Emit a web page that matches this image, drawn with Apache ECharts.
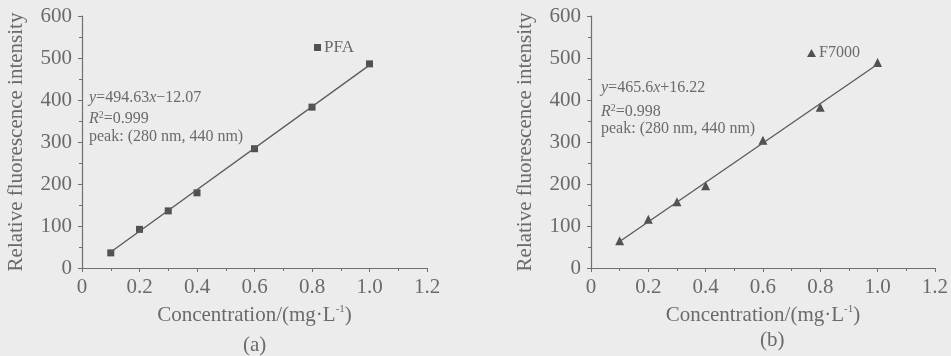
<!DOCTYPE html>
<html><head><meta charset="utf-8">
<script src="https://cdn.jsdelivr.net/npm/echarts@6/dist/echarts.min.js"></script>
<style>html,body{margin:0;padding:0;background:#ececec;}#c{width:951px;height:356px;}</style>
</head><body><div id="c"></div>
<script>
var concentrations = [0.1, 0.2, 0.3, 0.4, 0.6, 0.8, 1.0];
var pfaValues = [36, 92, 136, 179, 284, 383, 486];
var f7000Values = [65, 116, 158, 196, 304, 383, 489];
var pfaFit = [[0.1, 38], [1.0, 483]];
var f7000Fit = [[0.1, 63], [1.0, 485]];
var xTicks = ['0', '0.2', '0.4', '0.6', '0.8', '1.0', '1.2'];
var yTicks = ['0', '100', '200', '300', '400', '500', '600'];

var FONT = '"Liberation Serif","DejaVu Serif",serif';
var TXT = '#6a6a6a';
var AX = '#707070';

function pairs(xs, ys) { return xs.map(function (x, i) { return [x, ys[i]]; }); }

function xAxis(idx) {
  return {
    type: 'value', gridIndex: idx, min: 0, max: 1.2, interval: 0.2,
    axisLine: { lineStyle: { color: AX, width: 1.2 } },
    axisTick: { length: 4, lineStyle: { color: AX } },
    minorTick: { show: true, splitNumber: 2, length: 3, lineStyle: { color: AX } },
    splitLine: { show: false },
    axisLabel: { color: TXT, fontFamily: FONT, fontSize: 21, margin: 9,
      formatter: function (v) { return xTicks[Math.round(v / 0.2)]; } },
    name: '{n|Concentration/(mg·L}{s|-1}{n|)}', nameLocation: 'middle', nameGap: 36,
    nameTextStyle: { rich: { n: { color: TXT, fontFamily: FONT, fontSize: 21 },
      s: { color: TXT, fontFamily: FONT, fontSize: 11, verticalAlign: 'top', padding: [0, 0, 11, 0] } } }
  };
}
function yAxis(idx) {
  return {
    type: 'value', gridIndex: idx, min: 0, max: 600, interval: 100,
    axisLine: { show: true, lineStyle: { color: AX, width: 1.2 } },
    axisTick: { show: true, length: 4, lineStyle: { color: AX } },
    minorTick: { show: true, splitNumber: 2, length: 3, lineStyle: { color: AX } },
    splitLine: { show: false },
    axisLabel: { color: TXT, fontFamily: FONT, fontSize: 21, margin: 10,
      formatter: function (v) { return yTicks[Math.round(v / 100)]; } },
    name: 'Relative fluorescence intensity', nameLocation: 'middle', nameGap: 55,
    nameTextStyle: { color: TXT, fontFamily: FONT, fontSize: 21 }
  };
}

function annot(left, tops, eq, r2) {
  var rich = { i: { fontStyle: 'italic', fontFamily: FONT, fontSize: 16, fill: TXT },
    n: { fontFamily: FONT, fontSize: 16, fill: TXT },
    s: { fontFamily: FONT, fontSize: 10, fill: TXT, verticalAlign: 'top', padding: [0, 0, 8, 0] } };
  return [
    { type: 'text', left: left, top: tops[0], style: { text: eq, rich: rich, fontFamily: FONT, fontSize: 16, fill: TXT } },
    { type: 'text', left: left, top: tops[1], style: { text: '{i|R}{s|2}{n|=' + r2 + '}', rich: rich, fontFamily: FONT, fontSize: 16, fill: TXT } },
    { type: 'text', left: left, top: tops[2], style: { text: 'peak: (280 nm, 440 nm)', fontFamily: FONT, fontSize: 16, fill: TXT } }
  ];
}

var chart = echarts.init(document.getElementById('c'));
chart.setOption({
  backgroundColor: '#ececec',
  animation: false,
  grid: [
    { left: 82, top: 16, width: 345, height: 252 },
    { left: 591, top: 16, width: 344, height: 252 }
  ],
  xAxis: [xAxis(0), xAxis(1)],
  yAxis: [yAxis(0), yAxis(1)],
  legend: [
    { data: ['PFA'], left: 309, top: 34, itemWidth: 7, itemHeight: 7, itemGap: 4, icon: 'rect',
      textStyle: { color: TXT, fontFamily: FONT, fontSize: 17, padding: [0, 0, 0, -2] } },
    { data: ['F7000'], left: 802, top: 40, itemWidth: 9, itemHeight: 8, itemGap: 4, icon: 'triangle',
      textStyle: { color: TXT, fontFamily: FONT, fontSize: 16, padding: [0, 0, 0, -2] } }
  ],
  series: [
    { name: 'PFAfit', type: 'line', xAxisIndex: 0, yAxisIndex: 0, data: pfaFit, symbol: 'none',
      lineStyle: { color: '#5a5a5a', width: 1.3 }, silent: true },
    { name: 'PFA', type: 'scatter', xAxisIndex: 0, yAxisIndex: 0, data: pairs(concentrations, pfaValues),
      symbol: 'rect', symbolSize: 7, itemStyle: { color: '#2a2a2a' } },
    { name: 'F7000fit', type: 'line', xAxisIndex: 1, yAxisIndex: 1, data: f7000Fit, symbol: 'none',
      lineStyle: { color: '#5a5a5a', width: 1.3 }, silent: true },
    { name: 'F7000', type: 'scatter', xAxisIndex: 1, yAxisIndex: 1, data: pairs(concentrations, f7000Values),
      symbol: 'triangle', symbolSize: 9, itemStyle: { color: '#2a2a2a' } }
  ],
  graphic: [].concat(
    annot(89, [90, 110, 129], '{i|y}{n|=494.63}{i|x}{n|−12.07}', '0.999'),
    annot(601, [80, 103, 121], '{i|y}{n|=465.6}{i|x}{n|+16.22}', '0.998'),
    [
      { type: 'text', left: 243, top: 335, style: { text: '(a)', fontFamily: FONT, fontSize: 21, fill: TXT } },
      { type: 'text', left: 760, top: 330, style: { text: '(b)', fontFamily: FONT, fontSize: 21, fill: TXT } }
    ]
  )
});
</script></body></html>
